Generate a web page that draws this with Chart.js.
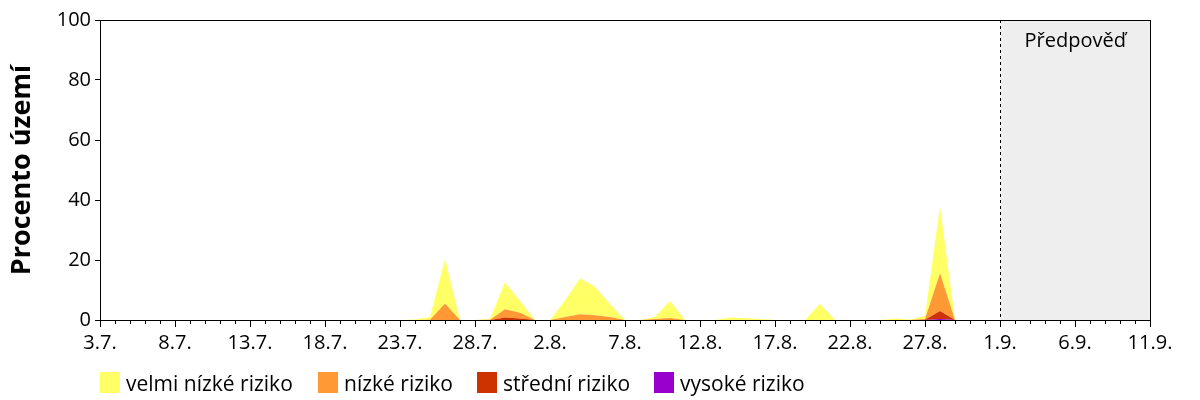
<!DOCTYPE html>
<html>
<head>
<meta charset="utf-8">
<script src="https://cdn.jsdelivr.net/npm/chart.js@4/dist/chart.umd.min.js"></script>
<style>
  html, body { margin: 0; padding: 0; background: #fff; }
  #wrap { position: relative; width: 1200px; height: 400px; }
  #legend { position: absolute; left: 0; top: 372px; width: 1200px; height: 24px; }
  .item { position: absolute; top: 0; height: 24px; font: 21px "Open Sans", sans-serif; color: #000; white-space: nowrap; line-height: 22px; }
  .box { display: inline-block; width: 20px; height: 21px; vertical-align: top; margin-right: 6px; }
</style>
</head>
<body>
<div id="wrap">
  <canvas id="chart" width="1200" height="400"></canvas>
  <div id="legend"></div>
</div>
<script>
"use strict";

// Dny 3.7. - 11.9.
const days = [
  "3.7.", "4.7.", "5.7.", "6.7.", "7.7.", "8.7.", "9.7.", "10.7.", "11.7.", "12.7.",
  "13.7.", "14.7.", "15.7.", "16.7.", "17.7.", "18.7.", "19.7.", "20.7.", "21.7.", "22.7.",
  "23.7.", "24.7.", "25.7.", "26.7.", "27.7.", "28.7.", "29.7.", "30.7.", "31.7.", "1.8.",
  "2.8.", "3.8.", "4.8.", "5.8.", "6.8.", "7.8.", "8.8.", "9.8.", "10.8.", "11.8.",
  "12.8.", "13.8.", "14.8.", "15.8.", "16.8.", "17.8.", "18.8.", "19.8.", "20.8.", "21.8.",
  "22.8.", "23.8.", "24.8.", "25.8.", "26.8.", "27.8.", "28.8.", "29.8.", "30.8.", "31.8.",
  "1.9.", "2.9.", "3.9.", "4.9.", "5.9.", "6.9.", "7.9.", "8.9.", "9.9.", "10.9.", "11.9."
];
const forecastStart = "1.9.";

// Procento území podle rizika
const velmiNizke = [
  0, 0, 0, 0, 0, 0, 0, 0, 0, 0,
  0, 0, 0, 0, 0, 0, 0, 0, 0, 0,
  0, 0.2, 0.9, 14.8, 0, 0, 0.3, 9.0, 3.9, 0,
  0, 5.5, 12.0, 9.5, 4.3, 0, 0, 0.7, 5.6, 0,
  0, 0, 0.8, 0.6, 0.3, 0, 0, 0, 5.4, 0,
  0, 0, 0, 0.5, 0.2, 1.0, 22.2, 0, 0, 0,
  0, 0, 0, 0, 0, 0, 0, 0, 0, 0, 0
];
const nizke = [
  0, 0, 0, 0, 0, 0, 0, 0, 0, 0,
  0, 0, 0, 0, 0, 0, 0, 0, 0, 0,
  0, 0, 0.1, 5.5, 0, 0, 0.1, 2.8, 1.9, 0,
  0, 1.0, 1.9, 1.6, 1.0, 0, 0, 0.3, 0.7, 0,
  0, 0, 0, 0, 0, 0, 0, 0, 0, 0,
  0, 0, 0, 0, 0, 0.2, 12.6, 0, 0, 0,
  0, 0, 0, 0, 0, 0, 0, 0, 0, 0, 0
];
const stredni = [
  0, 0, 0, 0, 0, 0, 0, 0, 0, 0,
  0, 0, 0, 0, 0, 0, 0, 0, 0, 0,
  0, 0, 0, 0, 0, 0, 0, 0.8, 0.5, 0,
  0, 0, 0, 0, 0, 0, 0, 0, 0, 0,
  0, 0, 0, 0, 0, 0, 0, 0, 0, 0,
  0, 0, 0, 0, 0, 0.1, 2.7, 0, 0, 0,
  0, 0, 0, 0, 0, 0, 0, 0, 0, 0, 0
];
const vysoke = [
  0, 0, 0, 0, 0, 0, 0, 0, 0, 0,
  0, 0, 0, 0, 0, 0, 0, 0, 0, 0,
  0, 0, 0, 0, 0, 0, 0, 0, 0, 0,
  0, 0, 0, 0, 0, 0, 0, 0, 0, 0,
  0, 0, 0, 0, 0, 0, 0, 0, 0, 0,
  0, 0, 0, 0, 0, 0, 0.3, 0, 0, 0,
  0, 0, 0, 0, 0, 0, 0, 0, 0, 0, 0
];

const names = ["velmi nízké riziko", "nízké riziko", "střední riziko", "vysoké riziko"];
const colors = ["#FFFF66", "#FF9933", "#CC3300", "#9900CC"];
const yTicks = [0, 20, 40, 60, 80, 100];

const FONT = "'Open Sans', sans-serif";

// Předpověď, rámeček a drobné značky na ose x
const extras = {
  id: "extras",
  beforeDatasetsDraw(chart) {
    const { ctx, chartArea: a, scales: { x } } = chart;
    const fx = Math.round(x.getPixelForValue(days.indexOf(forecastStart))) + 0.5;
    ctx.save();
    ctx.fillStyle = "#EEEEEE";
    ctx.fillRect(fx, a.top, a.right - fx, a.bottom - a.top);
    ctx.strokeStyle = "#000";
    ctx.lineWidth = 1;
    ctx.setLineDash([3, 3]);
    ctx.beginPath();
    ctx.moveTo(fx, a.top);
    ctx.lineTo(fx, a.bottom);
    ctx.stroke();
    ctx.setLineDash([]);
    ctx.fillStyle = "#000";
    ctx.font = "20px " + FONT;
    ctx.textAlign = "center";
    ctx.textBaseline = "alphabetic";
    ctx.fillText("Předpověď", (fx + a.right) / 2, a.top + 27);
    ctx.restore();
  },
  afterDraw(chart) {
    const { ctx, chartArea: a, scales: { x } } = chart;
    ctx.save();
    ctx.strokeStyle = "#000";
    ctx.lineWidth = 1;
    ctx.strokeRect(Math.round(a.left) + 0.5, Math.round(a.top) + 0.5,
      Math.round(a.right - a.left), Math.round(a.bottom - a.top));
    ctx.beginPath();
    days.forEach((d, i) => {
      const px = Math.round(x.getPixelForValue(i)) + 0.5;
      const len = i % 5 === 0 ? 7 : 4;
      ctx.moveTo(px, a.bottom);
      ctx.lineTo(px, a.bottom + len);
    });
    ctx.stroke();
    ctx.restore();
  }
};

const series = [vysoke, stredni, nizke, velmiNizke];
const order = [3, 2, 1, 0];

new Chart(document.getElementById("chart"), {
  type: "line",
  data: {
    labels: days,
    datasets: series.map((s, k) => ({
      label: names[order[k]],
      data: s,
      backgroundColor: colors[order[k]],
      borderColor: "rgba(0,0,0,0)",
      borderWidth: 0,
      pointRadius: 0,
      tension: 0,
      fill: k === 0 ? "origin" : "-1"
    }))
  },
  options: {
    responsive: false,
    animation: false,
    events: [],
    layout: { padding: { left: 0, top: 20, right: 50, bottom: 40 } },
    plugins: { legend: { display: false }, tooltip: { enabled: false } },
    scales: {
      x: {
        type: "category",
        offset: false,
        grid: { display: true, drawOnChartArea: false, drawTicks: true, tickLength: 7, color: "rgba(0,0,0,0)" },
        border: { display: true, color: "#000", width: 1 },
        ticks: {
          autoSkip: false,
          maxRotation: 0,
          padding: 4,
          color: "#000",
          font: { family: FONT, size: 20 },
          callback: (v, i) => (i % 5 === 0 ? days[i] : "")
        },
        afterFit: s => { s.height = 40; }
      },
      y: {
        stacked: true,
        min: 0,
        max: 100,
        afterBuildTicks: s => { s.ticks = yTicks.map(v => ({ value: v })); },
        grid: { display: true, drawOnChartArea: false, drawTicks: true, tickLength: 5, color: "#000" },
        border: { display: true, color: "#000", width: 1 },
        ticks: { padding: 4, color: "#000", font: { family: FONT, size: 20 } },
        title: {
          display: true,
          text: "Procento území",
          color: "#000",
          font: { family: FONT, size: 27, weight: "bold" },
          padding: { top: 6, bottom: 0 }
        },
        afterFit: s => { s.width = 100; }
      }
    }
  },
  plugins: [extras]
});

// Legenda
const legendX = [100, 318, 477, 654];
const legend = document.getElementById("legend");
names.forEach((n, i) => {
  const el = document.createElement("div");
  el.className = "item";
  el.style.left = legendX[i] + "px";
  el.innerHTML = '<span class="box" style="background:' + colors[i] + '"></span>' + n;
  legend.appendChild(el);
});
</script>
</body>
</html>
